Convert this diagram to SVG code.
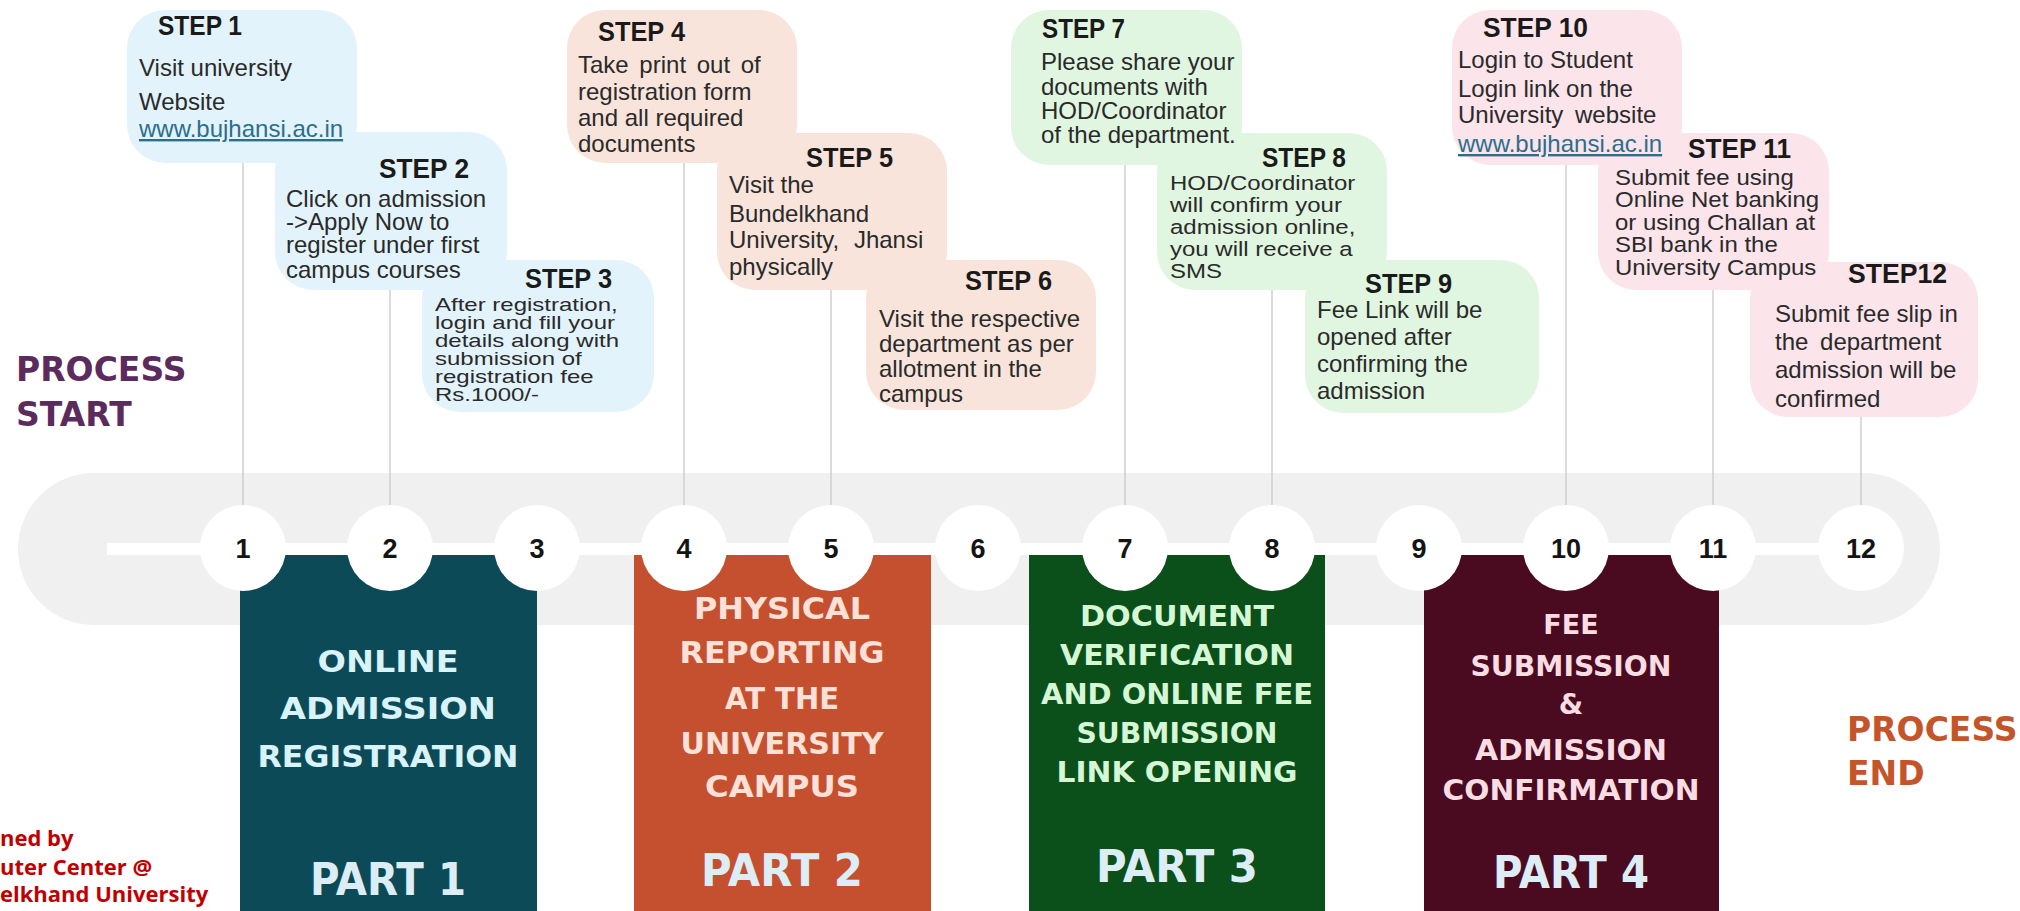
<svg xmlns="http://www.w3.org/2000/svg" width="2020" height="911" viewBox="0 0 2020 911">
<style>
.bg{fill:#ffffff}
.blue{fill:#e3f3fb}
.peach{fill:#f8e4db}
.green{fill:#e0f6e0}
.pink{fill:#fbe4ea}
.st{font-family:"Liberation Sans",Arial,sans-serif;font-weight:bold;font-size:28px;fill:#1a1a1a}
.tx{font-family:"Liberation Sans",Arial,sans-serif;font-size:24px;fill:#2a2a2a}
.sq{font-family:"Liberation Sans",Arial,sans-serif;font-size:24px;fill:#2a2a2a}
.lk{fill:#2c6e8c;text-decoration:underline}
.conn{stroke:#cfcfcf;stroke-width:1.5;fill:none}
.circ{fill:#ffffff}
.num{font-family:"Liberation Sans",Arial,sans-serif;font-weight:bold;font-size:27px;fill:#141414;text-anchor:middle}
.ph{font-family:"DejaVu Sans",sans-serif;font-weight:bold;text-anchor:middle}
.pl{font-family:"DejaVu Sans",sans-serif;font-weight:bold;text-anchor:middle;font-size:45px;fill:#dcedf6}
.proc{font-family:"DejaVu Sans",sans-serif;font-weight:bold;font-size:33px}
.credit{font-family:"Open Sans","Liberation Sans",sans-serif;font-weight:bold;font-size:22px;fill:#c00000}
</style>
<rect class="bg" x="0" y="0" width="2020" height="911"/>

<!-- timeline band -->
<g id="timeline">
  <rect x="18" y="473" width="1922" height="152" rx="76" ry="76" fill="#f0f0f0"/>
  <rect x="107" y="543" width="1755" height="12" fill="#ffffff"/>
</g>

<!-- connectors -->
<g id="connectors">
  <line class="conn" x1="243" y1="163" x2="243" y2="505"/>
  <line class="conn" x1="390" y1="290" x2="390" y2="505"/>
  <line class="conn" x1="684" y1="163" x2="684" y2="505"/>
  <line class="conn" x1="831" y1="290" x2="831" y2="505"/>
  <line class="conn" x1="1125" y1="165" x2="1125" y2="505"/>
  <line class="conn" x1="1272" y1="290" x2="1272" y2="505"/>
  <line class="conn" x1="1566" y1="165" x2="1566" y2="505"/>
  <line class="conn" x1="1713" y1="290" x2="1713" y2="505"/>
  <line class="conn" x1="1861" y1="416" x2="1861" y2="505"/>
</g>

<!-- parts -->
<g id="part1">
  <rect x="240" y="555" width="297" height="356" fill="#0d4a57"/>
  <g class="ph" fill="#d8f3f9" font-size="31">
    <text x="388" y="672" textLength="141" lengthAdjust="spacingAndGlyphs">ONLINE</text>
    <text x="388" y="719" textLength="216" lengthAdjust="spacingAndGlyphs">ADMISSION</text>
    <text x="388" y="767" textLength="261" lengthAdjust="spacingAndGlyphs">REGISTRATION</text>
  </g>
  <text class="pl" x="388" y="895" textLength="156" lengthAdjust="spacingAndGlyphs">PART 1</text>
</g>
<g id="part2">
  <rect x="634" y="555" width="297" height="356" fill="#c4502f"/>
  <g class="ph" fill="#fde1d8" font-size="30">
    <text x="782" y="619" textLength="176" lengthAdjust="spacingAndGlyphs">PHYSICAL</text>
    <text x="782" y="663" textLength="205" lengthAdjust="spacingAndGlyphs">REPORTING</text>
    <text x="782" y="709" textLength="114" lengthAdjust="spacingAndGlyphs">AT THE</text>
    <text x="782" y="754" textLength="203" lengthAdjust="spacingAndGlyphs">UNIVERSITY</text>
    <text x="782" y="797" textLength="154" lengthAdjust="spacingAndGlyphs">CAMPUS</text>
  </g>
  <text class="pl" x="782" y="886" textLength="162" lengthAdjust="spacingAndGlyphs">PART 2</text>
</g>
<g id="part3">
  <rect x="1029" y="555" width="296" height="356" fill="#0b4f1a"/>
  <g class="ph" fill="#d5f7d5" font-size="28">
    <text x="1177" y="626" textLength="194" lengthAdjust="spacingAndGlyphs">DOCUMENT</text>
    <text x="1177" y="665" textLength="234" lengthAdjust="spacingAndGlyphs">VERIFICATION</text>
    <text x="1177" y="704" textLength="272" lengthAdjust="spacingAndGlyphs">AND ONLINE FEE</text>
    <text x="1177" y="743" textLength="201" lengthAdjust="spacingAndGlyphs">SUBMISSION</text>
    <text x="1177" y="782" textLength="241" lengthAdjust="spacingAndGlyphs">LINK OPENING</text>
  </g>
  <text class="pl" x="1177" y="882" textLength="162" lengthAdjust="spacingAndGlyphs">PART 3</text>
</g>
<g id="part4">
  <rect x="1424" y="555" width="295" height="356" fill="#4a0b21"/>
  <g class="ph" fill="#f9dde3" font-size="28">
    <text x="1571" y="634" font-size="27">FEE</text>
    <text x="1571" y="676" textLength="201" lengthAdjust="spacingAndGlyphs">SUBMISSION</text>
    <text x="1571" y="714">&amp;</text>
    <text x="1571" y="760" textLength="192" lengthAdjust="spacingAndGlyphs">ADMISSION</text>
    <text x="1571" y="800" textLength="257" lengthAdjust="spacingAndGlyphs">CONFIRMATION</text>
  </g>
  <text class="pl" x="1571" y="888" textLength="156" lengthAdjust="spacingAndGlyphs">PART 4</text>
</g>

<!-- circles -->
<g id="markers">
  <circle class="circ" cx="243" cy="548" r="43"/><text class="num" x="243" y="558">1</text>
  <circle class="circ" cx="390" cy="548" r="43"/><text class="num" x="390" y="558">2</text>
  <circle class="circ" cx="537" cy="548" r="43"/><text class="num" x="537" y="558">3</text>
  <circle class="circ" cx="684" cy="548" r="43"/><text class="num" x="684" y="558">4</text>
  <circle class="circ" cx="831" cy="548" r="43"/><text class="num" x="831" y="558">5</text>
  <circle class="circ" cx="978" cy="548" r="43"/><text class="num" x="978" y="558">6</text>
  <circle class="circ" cx="1125" cy="548" r="43"/><text class="num" x="1125" y="558">7</text>
  <circle class="circ" cx="1272" cy="548" r="43"/><text class="num" x="1272" y="558">8</text>
  <circle class="circ" cx="1419" cy="548" r="43"/><text class="num" x="1419" y="558">9</text>
  <circle class="circ" cx="1566" cy="548" r="43"/><text class="num" x="1566" y="558">10</text>
  <circle class="circ" cx="1713" cy="548" r="43"/><text class="num" x="1713" y="558">11</text>
  <circle class="circ" cx="1861" cy="548" r="43"/><text class="num" x="1861" y="558">12</text>
</g>

<!-- step nodes (ordered so overlapping text stays visible) -->
<g id="step3">
  <rect class="blue" x="422" y="260" width="232" height="152" rx="38"/>
  <text class="st" x="525" y="288" textLength="87" lengthAdjust="spacingAndGlyphs">STEP 3</text>
  <g transform="translate(435 311) scale(1 0.75)">
    <text class="sq"><tspan x="0" y="0">After registration,</tspan><tspan x="0" y="24">login and fill your</tspan><tspan x="0" y="48">details along with</tspan><tspan x="0" y="72">submission of</tspan><tspan x="0" y="96">registration fee</tspan><tspan x="0" y="120">Rs.1000/-</tspan></text>
  </g>
</g>
<g id="step2">
  <rect class="blue" x="275" y="132" width="232" height="158" rx="38"/>
  <text class="st" x="379" y="178" textLength="90" lengthAdjust="spacingAndGlyphs">STEP 2</text>
  <text class="tx" font-size="26"><tspan x="286" y="207">Click on admission</tspan><tspan x="286" y="230">-&gt;Apply Now to</tspan><tspan x="286" y="253">register under first</tspan><tspan x="286" y="278">campus courses</tspan></text>
</g>
<g id="step1">
  <rect class="blue" x="127" y="10" width="230" height="153" rx="38"/>
  <text class="st" x="158" y="35" textLength="84" lengthAdjust="spacingAndGlyphs">STEP 1</text>
  <text class="tx"><tspan x="139" y="76">Visit university</tspan><tspan x="139" y="110">Website</tspan></text>
  <text class="tx lk" x="139" y="137">www.bujhansi.ac.in</text>
</g>
<g id="step4">
  <rect class="peach" x="567" y="10" width="230" height="153" rx="38"/>
  <text class="st" x="598" y="41" textLength="87" lengthAdjust="spacingAndGlyphs">STEP 4</text>
  <text class="tx"><tspan x="578" y="73" word-spacing="4">Take print out of</tspan><tspan x="578" y="100">registration form</tspan><tspan x="578" y="126">and all required</tspan><tspan x="578" y="152">documents</tspan></text>
</g>
<g id="step5">
  <rect class="peach" x="717" y="133" width="230" height="157" rx="38"/>
  <text class="st" x="806" y="167" textLength="87" lengthAdjust="spacingAndGlyphs">STEP 5</text>
  <text class="tx"><tspan x="729" y="193">Visit the</tspan><tspan x="729" y="222">Bundelkhand</tspan><tspan x="729" y="248" word-spacing="8">University, Jhansi</tspan><tspan x="729" y="275">physically</tspan></text>
</g>
<g id="step6">
  <rect class="peach" x="866" y="260" width="230" height="150" rx="38"/>
  <text class="st" x="965" y="290" textLength="87" lengthAdjust="spacingAndGlyphs">STEP 6</text>
  <text class="tx"><tspan x="879" y="327">Visit the respective</tspan><tspan x="879" y="352">department as per</tspan><tspan x="879" y="377">allotment in the</tspan><tspan x="879" y="402">campus</tspan></text>
</g>
<g id="step8">
  <rect class="green" x="1157" y="133" width="230" height="157" rx="38"/>
  <text class="st" x="1262" y="167" textLength="84" lengthAdjust="spacingAndGlyphs">STEP 8</text>
  <g transform="translate(1170 190) scale(1 0.88)">
    <text class="sq" font-size="23"><tspan x="0" y="0">HOD/Coordinator</tspan><tspan x="0" y="25">will confirm your</tspan><tspan x="0" y="50">admission online,</tspan><tspan x="0" y="75">you will receive a</tspan><tspan x="0" y="100">SMS</tspan></text>
  </g>
</g>
<g id="step9">
  <rect class="green" x="1305" y="260" width="234" height="153" rx="38"/>
  <text class="st" x="1365" y="293" textLength="87" lengthAdjust="spacingAndGlyphs">STEP 9</text>
  <text class="tx" font-size="25"><tspan x="1317" y="318">Fee Link will be</tspan><tspan x="1317" y="345">opened after</tspan><tspan x="1317" y="372">confirming the</tspan><tspan x="1317" y="399">admission</tspan></text>
</g>
<g id="step7">
  <rect class="green" x="1011" y="10" width="231" height="155" rx="38"/>
  <text class="st" x="1042" y="38" textLength="83" lengthAdjust="spacingAndGlyphs">STEP 7</text>
  <text class="tx"><tspan x="1041" y="70">Please share your</tspan><tspan x="1041" y="95">documents with</tspan><tspan x="1041" y="119">HOD/Coordinator</tspan><tspan x="1041" y="143">of the department.</tspan></text>
</g>
<g id="step12">
  <rect class="pink" x="1750" y="262" width="228" height="155" rx="38"/>
  <text class="st" x="1848" y="283" textLength="99" lengthAdjust="spacingAndGlyphs">STEP12</text>
  <text class="tx" font-size="25"><tspan x="1775" y="322">Submit fee slip in</tspan><tspan x="1775" y="350" word-spacing="5">the department</tspan><tspan x="1775" y="378">admission will be</tspan><tspan x="1775" y="407">confirmed</tspan></text>
</g>
<g id="step11">
  <rect class="pink" x="1598" y="133" width="231" height="157" rx="38"/>
  <text class="st" x="1688" y="158" textLength="103" lengthAdjust="spacingAndGlyphs">STEP 11</text>
  <g transform="translate(1615 185) scale(1 0.9)">
    <text class="sq" font-size="23"><tspan x="0" y="0">Submit fee using</tspan><tspan x="0" y="25">Online Net banking</tspan><tspan x="0" y="50">or using Challan at</tspan><tspan x="0" y="75">SBI bank in the</tspan><tspan x="0" y="100">University Campus</tspan></text>
  </g>
</g>
<g id="step10">
  <rect class="pink" x="1452" y="10" width="230" height="155" rx="38"/>
  <text class="st" x="1483" y="37" textLength="105" lengthAdjust="spacingAndGlyphs">STEP 10</text>
  <text class="tx"><tspan x="1458" y="68">Login to Student</tspan><tspan x="1458" y="97">Login link on the</tspan><tspan x="1458" y="123" word-spacing="5">University website</tspan></text>
  <text class="tx lk" x="1458" y="152">www.bujhansi.ac.in</text>
</g>

<!-- start / end labels -->
<g id="start">
  <text class="proc" fill="#5c2b5e"><tspan x="16" y="381">PROCESS</tspan><tspan x="16" y="426">START</tspan></text>
</g>
<g id="end">
  <text class="proc" fill="#c4552b"><tspan x="1847" y="741">PROCESS</tspan><tspan x="1847" y="785">END</tspan></text>
</g>
<g id="credit">
  <text class="credit"><tspan x="0" y="846">ned by</tspan><tspan x="0" y="875">uter Center @</tspan><tspan x="0" y="902">elkhand University</tspan></text>
</g>
</svg>
